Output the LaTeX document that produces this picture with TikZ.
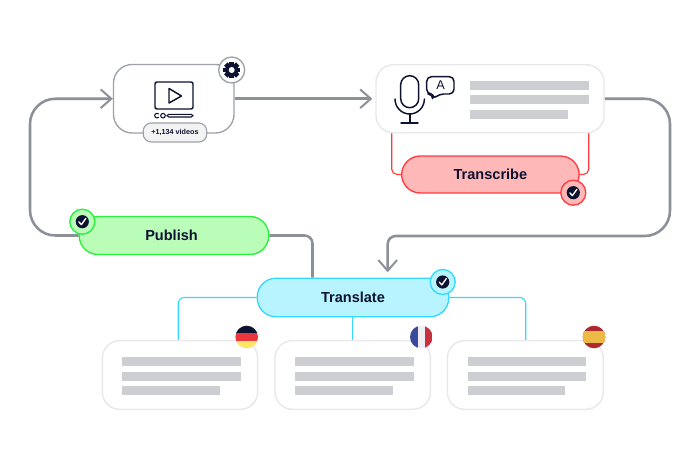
\documentclass[tikz,border=0pt]{standalone}
\usepackage{fontspec}
\setmainfont{Liberation Sans}
\usetikzlibrary{arrows.meta,backgrounds}
\definecolor{ink}{HTML}{0D1230}
\definecolor{flowgray}{HTML}{8C9099}
\definecolor{edgegray}{HTML}{9EA2A8}
\definecolor{softedge}{HTML}{E9E9EB}
\definecolor{barfill}{HTML}{CDCED2}
\definecolor{redline}{HTML}{FF3B3F}
\definecolor{redfill}{HTML}{FFB8B8}
\definecolor{greenline}{HTML}{2BF03B}
\definecolor{greenfill}{HTML}{B9FDB9}
\definecolor{blueline}{HTML}{35D8FF}
\definecolor{bluefill}{HTML}{B8F4FF}
\definecolor{deRed}{HTML}{E8383D}
\definecolor{deGold}{HTML}{FFE566}
\definecolor{frBlue}{HTML}{394A9B}
\definecolor{frWhite}{HTML}{EEEEF3}
\definecolor{frRed}{HTML}{C8303D}
\definecolor{esRed}{HTML}{AE2A30}
\definecolor{esGold}{HTML}{EDBA45}
\tikzset{
  size/.style 2 args={minimum width={#1*0.75pt},minimum height={#2*0.75pt},inner sep=0pt},
  flow/.style={draw=flowgray,line width=1.9pt,line join=round},
  flowtip/.style={-{Straight Barb[length=8pt,width=14pt,line width=1.5pt]}},
  redlink/.style={draw=redline,line width=0.85pt,rounded corners=4pt},
  bluelink/.style={draw=blueline,line width=0.85pt,rounded corners=4.5pt},
  card/.style={draw=softedge,fill=white,line width=1.1pt,rounded corners=13pt},
  pill/.style={line width=1pt,rounded corners=14pt,font=\fontsize{10.9}{12}\selectfont\bfseries,text=ink},
  bar/.style={fill=barfill},
  icon/.style={draw=ink,line width=1.1pt,line join=round,line cap=round},
}
\newcommand{\cardbars}[2]{% left x, top y
  \fill[bar] (#1,#2) rectangle ++(118.5,8.7);
  \fill[bar] (#1,#2+14.5) rectangle ++(118.5,8.7);
  \fill[bar] (#1,#2+29) rectangle ++(97.5,8.7);
}
\newcommand{\badge}[5]{% name,x,y,line,fill
  \node[circle,draw=#4,fill=#5,line width=1pt,minimum size={25*0.75pt},inner sep=0pt] (#1) at (#2,#3) {};
  \fill[ink] (#2,#3) circle (6.6);
  \draw[white,line width=1pt,line cap=round,line join=round] (#2-3.4,#3+0.2) -- (#2-0.9,#3+2.9) -- (#2+3.6,#3-3.4);
}
\begin{document}
\begin{tikzpicture}[x=0.75pt,y=-0.75pt]
\useasboundingbox (0,0) rectangle (700,467);

% nodes (centre positions in reference pixels)
\node[size={120.5}{68.5},draw=edgegray,fill=white,line width=1pt,rounded corners=14pt] (video) at (173.75,98.75) {};
\node[size={228}{68},card] (script) at (490,98.75) {};
\node[size={177.5}{37},pill,draw=redline,fill=redfill] (transcribe) at (490.4,174.5) {Transcribe};
\node[size={189.5}{38},pill,draw=greenline,fill=greenfill] (publish) at (174,235.5) {Publish\kern3.75pt\relax};
\node[size={191.5}{38.5},pill,draw=blueline,fill=bluefill] (translate) at (353,297.5) {Translate};
\node[size={155.4}{68.6},card] (de) at (180,375) {};
\node[size={155.4}{68.6},card] (fr) at (352.7,375) {};
\node[size={156}{68.6},card] (es) at (525.3,375) {};

% anchor points of connectors
\coordinate (leftTop) at (30,98.75);
\coordinate (leftBot) at (30,235.5);
\coordinate (rightTop) at (670,98.75);
\coordinate (rightBot) at (670,236);
\coordinate (dropX) at (387.7,236);
\coordinate (pubDrop) at (312.5,235.5);
\coordinate (redL) at (391.7,133);
\coordinate (redR) at (588.7,133);
\coordinate (deIn) at (178.3,340.7);
\coordinate (esIn) at (525.7,340.7);

% connectors, behind the nodes
\begin{scope}[on background layer]
\fill[white] (0,0) rectangle (700,467);
\draw[flow,flowtip] (publish.west) [rounded corners=19pt] -- (leftBot) -- (leftTop) -- (video.west);
\draw[flow,flowtip,shorten >=2.2pt] (video.east) -- (script.west);
\draw[flow,flowtip,shorten >=4pt] (script.east) [rounded corners=19pt] -- (rightTop) -- (rightBot) [rounded corners=6pt] -- (dropX) -- (dropX |- translate.north);
\draw[flow,rounded corners=6pt] (publish.east) -- (pubDrop) -- (pubDrop |- translate.north);
\draw[redlink] (redL) |- (transcribe.west);
\draw[redlink] (redR) |- (transcribe.east);
\draw[bluelink] (translate.west) -| (deIn);
\draw[bluelink] (translate.east) -| (esIn);
\draw[draw=blueline,line width=0.85pt] (fr.north) -- (fr.north |- translate.south);
\end{scope}

% video icon
\draw[icon,rounded corners=1.5pt] (155,82) rectangle (193,109);
\draw[icon] (169,88.5) -- (181.5,96) -- (169,103) -- cycle;
\draw[icon,line width=0.8pt] (158.6,114) arc (45:315:2.3 and -2.3);
\draw[icon,line width=0.8pt] (163,115.7) circle (2.3);
\draw[icon,line width=0.8pt,rounded corners=1.2pt] (167,114.3) rectangle (193,117);

% gear badge
\node[circle,draw=edgegray,fill=white,line width=1pt,minimum size={26*0.75pt},inner sep=0pt] (gear) at (231.7,70) {};
\fill[ink] (231.7,70) circle (6.6);
\foreach \a in {0,45,...,315}
  \fill[ink,rotate around={\a:(231.7,70)}] (229.3,61.6) rectangle (234.1,65);
\fill[white] (231.7,70) circle (3);

% count pill
\node[size={63.5}{19},draw=edgegray,fill=softedge!55,line width=0.85pt,rounded corners=6pt,text=ink,font=\fontsize{5.4}{6}\selectfont\bfseries] (count) at (175,132.5) {+1,134 videos};

% microphone and bubble
\draw[icon] (400.7,84.7) arc (180:0:9 and -9) -- (418.7,98.7) arc (0:-180:9 and -9) -- cycle;
\draw[icon] (395,99) arc (180:360:14.7 and -15);
\draw[icon] (409.8,114) -- (409.8,123);
\draw[icon] (401,123) -- (418,123);
\draw[icon,rounded corners=3.5pt] (426.7,76.7) -- (454,76.7) -- (454,94) -- (439,94) -- (432.7,99.5) -- (432.7,94) -- (426.7,94) -- cycle;
\node[text=ink,font=\fontsize{9.5}{10}\selectfont,inner sep=0pt] (letterA) at (440.7,85.2) {A};

% text placeholder bars
\cardbars{470}{81}
\cardbars{122}{357.3}
\cardbars{295}{357.3}
\cardbars{467.5}{357.3}

% flags
\begin{scope}
\clip (246.7,337) circle (11.3);
\fill[ink] (235,325) rectangle (259,333.4);
\fill[deRed] (235,333.4) rectangle (259,340.6);
\fill[deGold] (235,340.6) rectangle (259,349);
\end{scope}
\begin{scope}
\clip (421.3,337) circle (11.3);
\fill[frBlue] (409,325) rectangle (417.6,349);
\fill[frWhite] (417.6,325) rectangle (425,349);
\fill[frRed] (425,325) rectangle (433,349);
\end{scope}
\begin{scope}
\clip (594,337) circle (11.3);
\fill[esRed] (582,325) rectangle (606,349);
\fill[esGold] (582,331.3) rectangle (606,342.7);
\end{scope}

% check badges
\badge{okTranscribe}{573.3}{192.7}{redline}{redfill}
\badge{okPublish}{82.3}{221.7}{greenline}{greenfill}
\badge{okTranslate}{442.7}{282}{blueline}{bluefill}
\end{tikzpicture}
\end{document}
